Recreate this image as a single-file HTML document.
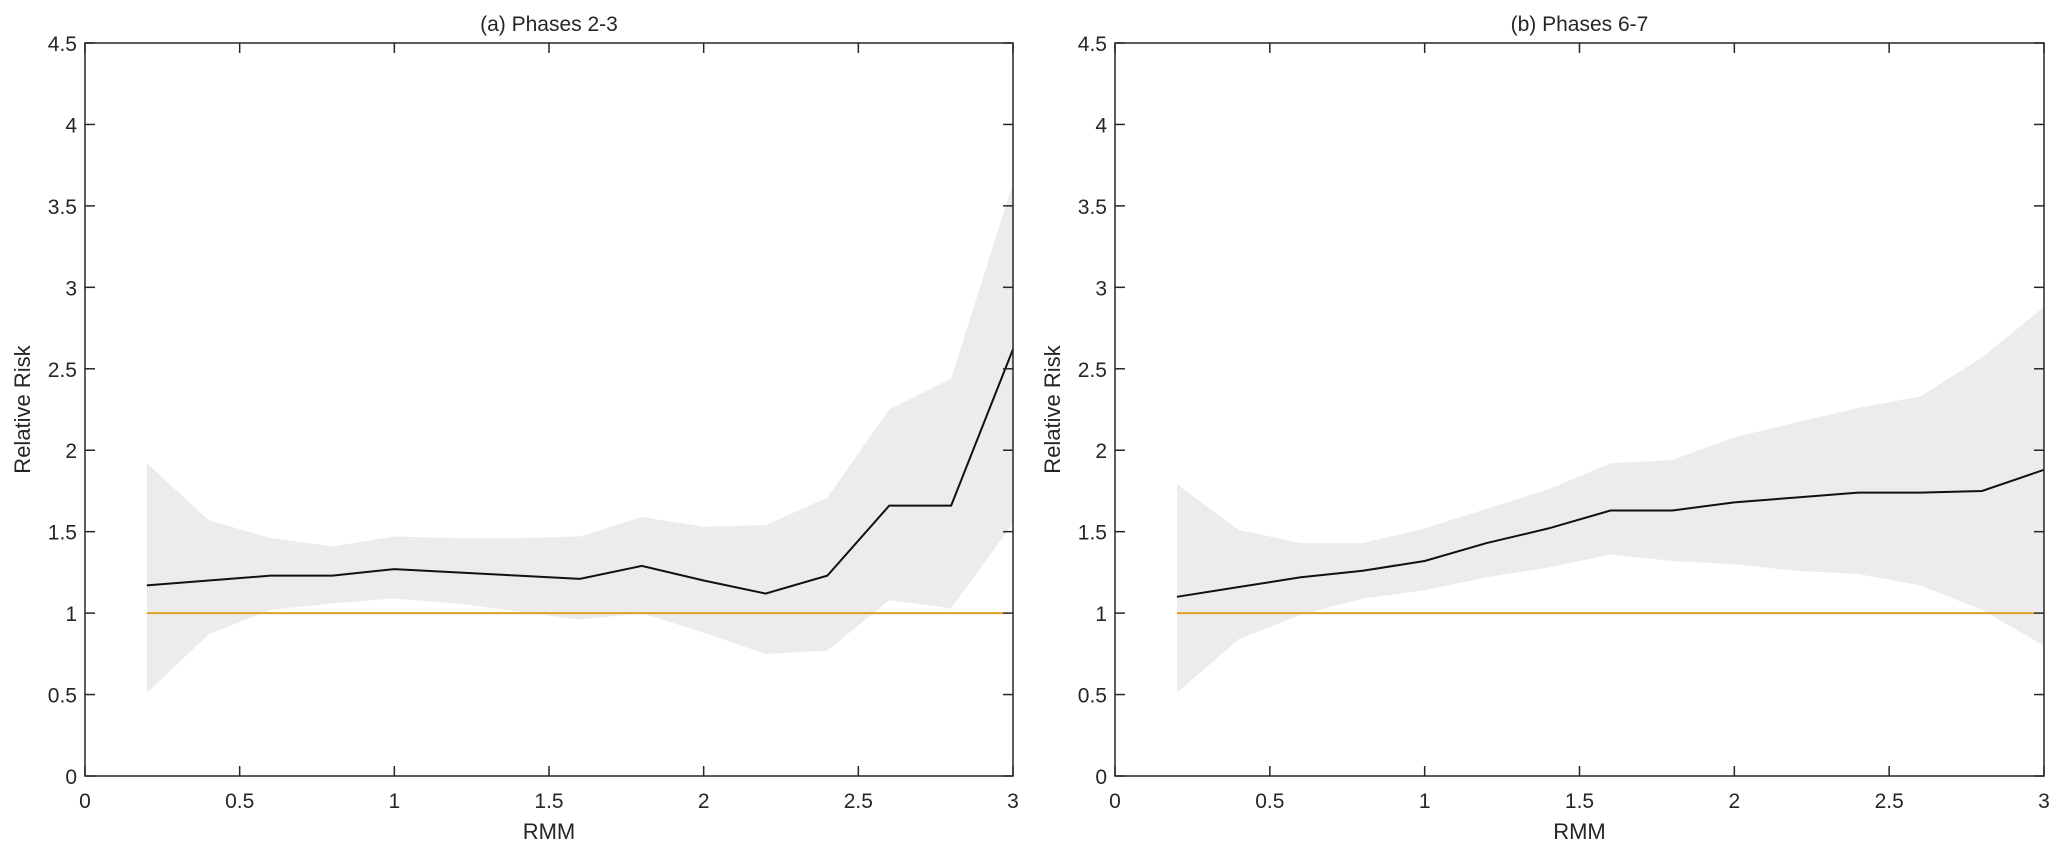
<!DOCTYPE html>
<html><head><meta charset="utf-8"><style>
html,body{margin:0;padding:0;background:#fff}
svg{display:block}
text{font-family:"Liberation Sans",sans-serif;fill:#262626}
</style></head><body>
<svg id="chart" width="2067" height="856" xmlns="http://www.w3.org/2000/svg"></svg>
<script>
const xs = [0.2,0.4,0.6,0.8,1.0,1.2,1.4,1.6,1.8,2.0,2.2,2.4,2.6,2.8,3.0];
const meanA = [1.17,1.20,1.23,1.23,1.27,1.25,1.23,1.21,1.29,1.20,1.12,1.23,1.66,1.66,2.62];
const upperA = [1.92,1.57,1.46,1.41,1.47,1.46,1.46,1.47,1.59,1.53,1.54,1.71,2.25,2.44,3.64];
const lowerA = [0.51,0.87,1.02,1.06,1.09,1.06,1.01,0.96,1.00,0.88,0.75,0.77,1.08,1.03,1.55];
const meanB = [1.10,1.16,1.22,1.26,1.32,1.43,1.52,1.63,1.63,1.68,1.71,1.74,1.74,1.75,1.88];
const upperB = [1.79,1.51,1.43,1.43,1.52,1.64,1.76,1.92,1.94,2.08,2.17,2.26,2.33,2.57,2.88];
const lowerB = [0.51,0.84,0.99,1.09,1.14,1.22,1.28,1.36,1.32,1.30,1.26,1.24,1.17,1.02,0.80];
const xTicks = [0,0.5,1,1.5,2,2.5,3];
const xTickLabels = ["0","0.5","1","1.5","2","2.5","3"];
const yTicks = [0,0.5,1,1.5,2,2.5,3,3.5,4,4.5];
const yTickLabels = ["0","0.5","1","1.5","2","2.5","3","3.5","4","4.5"];
const refValue = 1;
const refRange = [0.2,2.97];

const svg = document.getElementById('chart');
const NS = 'http://www.w3.org/2000/svg';
function mk(tag, attrs, parent){const e=document.createElementNS(NS,tag);for(const k in attrs)e.setAttribute(k,attrs[k]);(parent||svg).appendChild(e);return e;}

function panel(id, left, right, title, mean, upper, lower){
  const top=43, bottom=776;
  const g = mk('g',{});
  
  
  const X = v => left + (v-0)/(3-0)*(right-left);
  const Y = v => bottom - (v-0)/(4.5-0)*(bottom-top);
  let pts = xs.map((x,i)=>X(x)+','+Y(upper[i]));
  pts = pts.concat(xs.map((x,i)=>[X(x),Y(lower[i])]).reverse().map(p=>p[0]+','+p[1]));
  const band = mk('polygon',{points:pts.join(' '),fill:'#ececec',stroke:'none'},g);
  
  
  const ref = mk('line',{x1:X(refRange[0]),x2:X(refRange[1]),y1:Y(refValue),y2:Y(refValue),stroke:'#e0a020','stroke-width':2},g);
  
  
  const ml = mk('polyline',{points:xs.map((x,i)=>X(x)+','+Y(mean[i])).join(' '),fill:'none',stroke:'#111','stroke-width':2},g);
  
  
  const box = mk('rect',{x:left,y:top,width:right-left,height:bottom-top,fill:'none',stroke:'#262626','stroke-width':1.5},g);
  
  
  const tl=10;
  xTicks.forEach((t,i)=>{
    const x=X(t);
    mk('line',{x1:x,x2:x,y1:bottom,y2:bottom-tl,stroke:'#262626','stroke-width':1.5},g);
    mk('line',{x1:x,x2:x,y1:top,y2:top+tl,stroke:'#262626','stroke-width':1.5},g);
    const tx = mk('text',{x:x,y:bottom+32,'text-anchor':'middle','font-size':21},g);
    tx.textContent = xTickLabels[i];
    
    
  });
  yTicks.forEach((t,i)=>{
    const y=Y(t);
    mk('line',{x1:left,x2:left+tl,y1:y,y2:y,stroke:'#262626','stroke-width':1.5},g);
    mk('line',{x1:right,x2:right-tl,y1:y,y2:y,stroke:'#262626','stroke-width':1.5},g);
    const ty = mk('text',{x:left-8,y:y+8,'text-anchor':'end','font-size':21},g);
    ty.textContent = yTickLabels[i];
    
    
  });
  const tt = mk('text',{x:(left+right)/2,y:31,'text-anchor':'middle','font-size':21},g);
  tt.textContent = title;
  
  
  const xl = mk('text',{x:(left+right)/2,y:839,'text-anchor':'middle','font-size':22},g);
  xl.textContent = 'RMM';
  
  
  const yl = mk('text',{x:0,y:0,'text-anchor':'middle','font-size':22,transform:`translate(${left-55},${(top+bottom)/2}) rotate(-90)`},g);
  yl.textContent = 'Relative Risk';
  
  
}
panel('panel-a', 85, 1013, '(a) Phases 2-3', meanA, upperA, lowerA);
panel('panel-b', 1115, 2044, '(b) Phases 6-7', meanB, upperB, lowerB);
</script>
</body></html>
